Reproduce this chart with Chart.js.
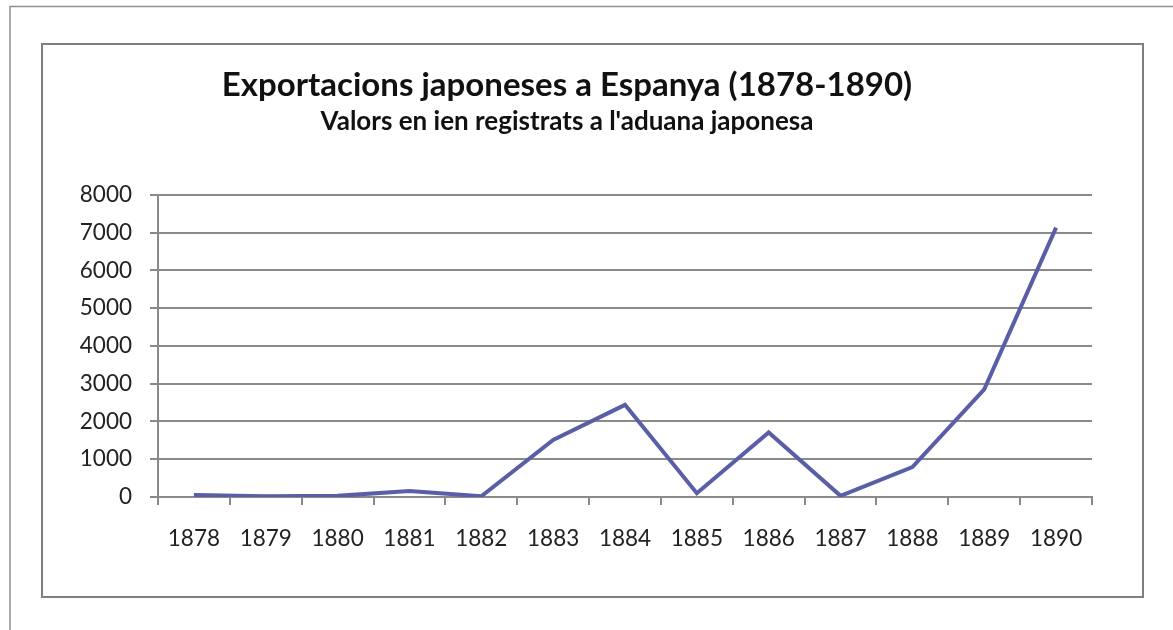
<!DOCTYPE html>
<html>
<head>
<meta charset="utf-8">
<script src="https://cdn.jsdelivr.net/npm/chart.js@4.4.0/dist/chart.umd.min.js"></script>
<style>
  html, body { margin: 0; padding: 0; background: #fff; }
  canvas { display: block; }
</style>
</head>
<body>
<canvas id="exportChart" width="1173" height="630"></canvas>
<script>
// dades llegides del grafic original
const anys = ['1878', '1879', '1880', '1881', '1882', '1883', '1884', '1885', '1886', '1887', '1888', '1889', '1890'];
const valorsIen = [50, 20, 30, 160, 20, 1510, 2440, 100, 1710, 30, 790, 2850, 7130];
const titol = 'Exportacions japoneses a Espanya (1878-1890)';
const subtitol = "Valors en ien registrats a l'aduana japonesa";

const gris = '#8a8a8a';

// marc exterior i requadre del grafic
const marcs = {
  id: 'marcs',
  beforeDraw(chart) {
    const c = chart.ctx;
    c.save();
    c.fillStyle = '#fff';
    c.fillRect(0, 0, chart.width, chart.height);
    c.strokeStyle = '#909090';
    c.lineWidth = 1.5;
    c.beginPath();
    c.moveTo(10, chart.height);
    c.lineTo(10, 6.5);
    c.lineTo(chart.width, 6.5);
    c.stroke();
    c.strokeStyle = '#7f7f7f';
    c.lineWidth = 2;
    c.strokeRect(42, 44, 1101, 553);
    c.restore();
  }
};

const ctx = document.getElementById('exportChart').getContext('2d');
const chart = new Chart(ctx, {
  type: 'line',
  data: {
    labels: anys,
    datasets: [{
      label: 'Exportacions',
      data: valorsIen,
      borderColor: '#5a5ea6',
      borderWidth: 4,
      pointRadius: 0,
      tension: 0,
      fill: false
    }]
  },
  options: {
    responsive: false,
    animation: false,
    layout: { padding: { left: 42, right: 81, top: 44, bottom: 33 } },
    plugins: {
      legend: { display: false },
      tooltip: { enabled: false },
      title: {
        display: true,
        text: titol,
        color: '#111',
        font: { family: 'Lato', size: 33, weight: 'bold', lineHeight: 1.2 },
        padding: { top: 22, bottom: 0 }
      },
      subtitle: {
        display: true,
        text: subtitol,
        color: '#111',
        font: { family: 'Lato', size: 26, weight: 'bold', lineHeight: 1.2 },
        padding: { top: 0, bottom: 58 }
      }
    },
    scales: {
      x: {
        offset: true,
        grid: {
          display: true,
          offset: true,
          drawOnChartArea: false,
          drawTicks: true,
          tickLength: 8,
          color: gris,
          lineWidth: 2
        },
        border: { color: gris, width: 2 },
        ticks: {
          color: '#222',
          padding: 20,
          maxRotation: 0,
          font: { family: 'Lato', size: 22.5 }
        },
        afterFit(scale) { scale.height = 100; }
      },
      y: {
        min: 0,
        max: 8000,
        grid: {
          color: gris,
          lineWidth: 2,
          tickLength: 8
        },
        border: { color: gris, width: 2 },
        ticks: {
          stepSize: 1000,
          color: '#222',
          padding: 18,
          font: { family: 'Lato', size: 22.5 },
          callback: (v) => String(v)
        },
        afterFit(scale) { scale.width = 116; }
      }
    }
  },
  plugins: [marcs]
});
</script>
</body>
</html>
